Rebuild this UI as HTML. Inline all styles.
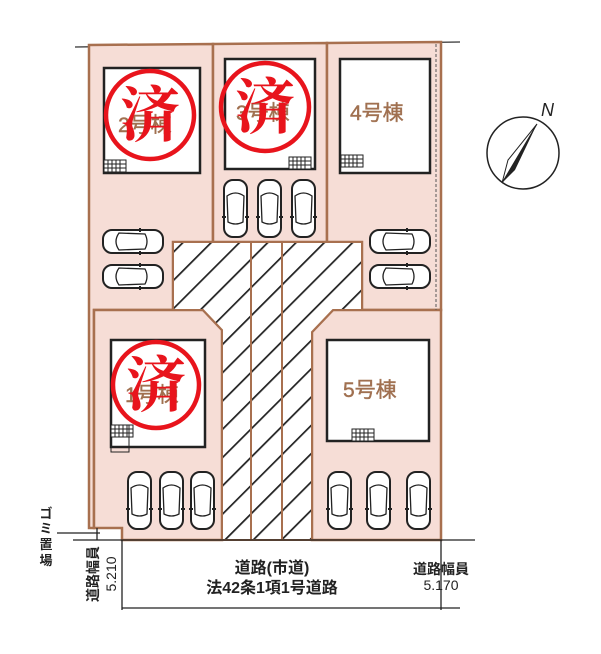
<!DOCTYPE html>
<html><head><meta charset="utf-8"><style>
html,body{margin:0;padding:0;background:#fff;width:601px;height:654px;overflow:hidden}
svg{display:block}
text{font-family:"Liberation Sans","Noto Sans CJK JP",sans-serif}
</style></head><body>
<svg width="601" height="654" viewBox="0 0 601 654" xmlns="http://www.w3.org/2000/svg">
<defs>
<pattern id="h" patternUnits="userSpaceOnUse" width="20" height="20" patternTransform="rotate(45)">
<rect width="20" height="20" fill="#fff"/><line x1="0" y1="0" x2="0" y2="20" stroke="#222" stroke-width="3.5"/>
</pattern>
<g id="cv" fill="#fff" stroke="#222" stroke-width="2">
<rect x="0" y="0" width="23" height="57" rx="9"/>
<path d="M3 16 Q11.5 10 20 16 L19 42 Q11.5 46 4 42 Z" fill="none" stroke-width="1.3"/>
<line x1="-2" y1="37" x2="2" y2="37"/><line x1="21" y1="37" x2="25" y2="37"/>
</g>
<g id="ch" fill="#fff" stroke="#222" stroke-width="2">
<rect x="0" y="0" width="60" height="23" rx="9"/>
<path d="M16 3 Q10 11.5 16 20 L42 19 Q46 11.5 42 4 Z" fill="none" stroke-width="1.3"/>
<line x1="37" y1="-2" x2="37" y2="2"/><line x1="37" y1="21" x2="37" y2="25"/>
</g>
<g id="gr" stroke="#222" stroke-width="1" fill="#fff">
<rect x="0" y="0" width="22" height="12"/>
<path d="M0 4H22M0 8H22M4 0V12M8 0V12M12 0V12M16 0V12" fill="none"/>
</g>
</defs>
<line x1="75" y1="47" x2="460" y2="42" stroke="#333" stroke-width="1.3"/>
<g fill="#f6ddd6" stroke="#a8704f" stroke-width="2.5">
<polygon points="89,45 213,44 213,242 173,242 173,310 94,310 94,528 89,528"/>
<polygon points="213,44 327,43 327,242 213,242"/>
<polygon points="327,43 441,42 441,310 362,310 362,242 327,242"/>
<polygon points="94,310 203,310 222,330 222,540 122,540 122,528 94,528"/>
<polygon points="333,310 441,310 441,540 312,540 312,332"/>
</g>
<line x1="436" y1="44" x2="436" y2="310" stroke="#555" stroke-width="1" stroke-dasharray="3,2"/>
<polygon points="173,242 362,242 362,310 333,310 312,332 312,540 222,540 222,330 203,310 173,310" fill="url(#h)" stroke="#a8704f" stroke-width="2"/>
<line x1="251" y1="242" x2="251" y2="540" stroke="#a8704f" stroke-width="2"/>
<line x1="282" y1="242" x2="282" y2="540" stroke="#a8704f" stroke-width="2"/>
<g fill="#fff" stroke="#222" stroke-width="2.5">
<rect x="104" y="68" width="96" height="105"/>
<rect x="225" y="59" width="90" height="110"/>
<rect x="340" y="59" width="90" height="114"/>
<rect x="111" y="340" width="94" height="107"/>
<rect x="327" y="340" width="102" height="101"/>
</g>
<use href="#gr" x="104" y="160"/><use href="#gr" x="289" y="157"/><use href="#gr" x="341" y="155"/>
<use href="#gr" x="111" y="425"/><rect x="111" y="425" width="18" height="27" fill="none" stroke="#222"/>
<use href="#gr" x="352" y="429"/>
<g font-size="21" fill="#a07050" stroke="#a07050" stroke-width="0.4">
<text x="118" y="132">2号棟</text>
<text x="236" y="120">3号棟</text>
<text x="350" y="120">4号棟</text>
<text x="125" y="402">1号棟</text>
<text x="343" y="397">5号棟</text>
</g>
<g fill="none" stroke="#e8141c" stroke-width="4.5">
<circle cx="150" cy="115" r="44"/><circle cx="265" cy="107" r="44"/><circle cx="156" cy="385" r="43"/>
</g>
<g fill="#e8141c" font-size="60" font-weight="bold" text-anchor="middle">
<text x="150" y="136" style="font-family:'Noto Serif CJK SC',serif">済</text>
<text x="265" y="128" style="font-family:'Noto Serif CJK SC',serif">済</text>
<text x="156" y="406" style="font-family:'Noto Serif CJK SC',serif">済</text>
</g>
<use href="#cv" x="224" y="180"/><use href="#cv" x="258" y="180"/><use href="#cv" x="292" y="180"/>
<use href="#ch" x="103" y="230"/><use href="#ch" x="103" y="265"/>
<use href="#ch" x="370" y="230"/><use href="#ch" x="370" y="265"/>
<use href="#cv" x="128" y="472"/><use href="#cv" x="160" y="472"/><use href="#cv" x="191" y="472"/>
<use href="#cv" x="328" y="472"/><use href="#cv" x="367" y="472"/><use href="#cv" x="407" y="472"/>
<g stroke="#222" stroke-width="1.3">
<line x1="73" y1="540" x2="475" y2="540"/>
<line x1="57" y1="533" x2="100" y2="533"/>
<line x1="97" y1="528" x2="97" y2="540"/>
<line x1="122" y1="540" x2="122" y2="610"/>
<line x1="441" y1="540" x2="441" y2="610"/>
<line x1="122" y1="608" x2="460" y2="608"/>
</g>
<g font-size="16" fill="#222" text-anchor="middle" font-weight="bold">
<text x="272" y="573">道路(市道)</text>
<text x="272" y="593">法42条1項1号道路</text>
<text x="441" y="574" font-size="14">道路幅員</text>
<text x="441" y="590" font-size="14" font-weight="normal">5.170</text>
</g>
<g font-size="14" fill="#222" font-weight="bold" text-anchor="middle">
<text x="0" y="0" transform="translate(98,574) rotate(-90)">道路幅員</text>
<text x="0" y="0" font-weight="normal" transform="translate(116,574) rotate(-90)">5.210</text>
</g>
<g font-size="13" fill="#222" font-weight="bold" text-anchor="middle">
<text x="46" y="518">ゴ</text><text x="46" y="533">ミ</text><text x="46" y="549">置</text><text x="46" y="565">場</text>
</g>
<circle cx="523" cy="153" r="36" fill="none" stroke="#222" stroke-width="1.5"/>
<polygon points="537,124 502,183 515,170" fill="#222"/>
<polygon points="537,124 502,183 508,160" fill="#fff" stroke="#222" stroke-width="1"/>
<text x="541" y="116" font-size="18" font-style="italic" fill="#222">N</text>
</svg>
</body></html>
